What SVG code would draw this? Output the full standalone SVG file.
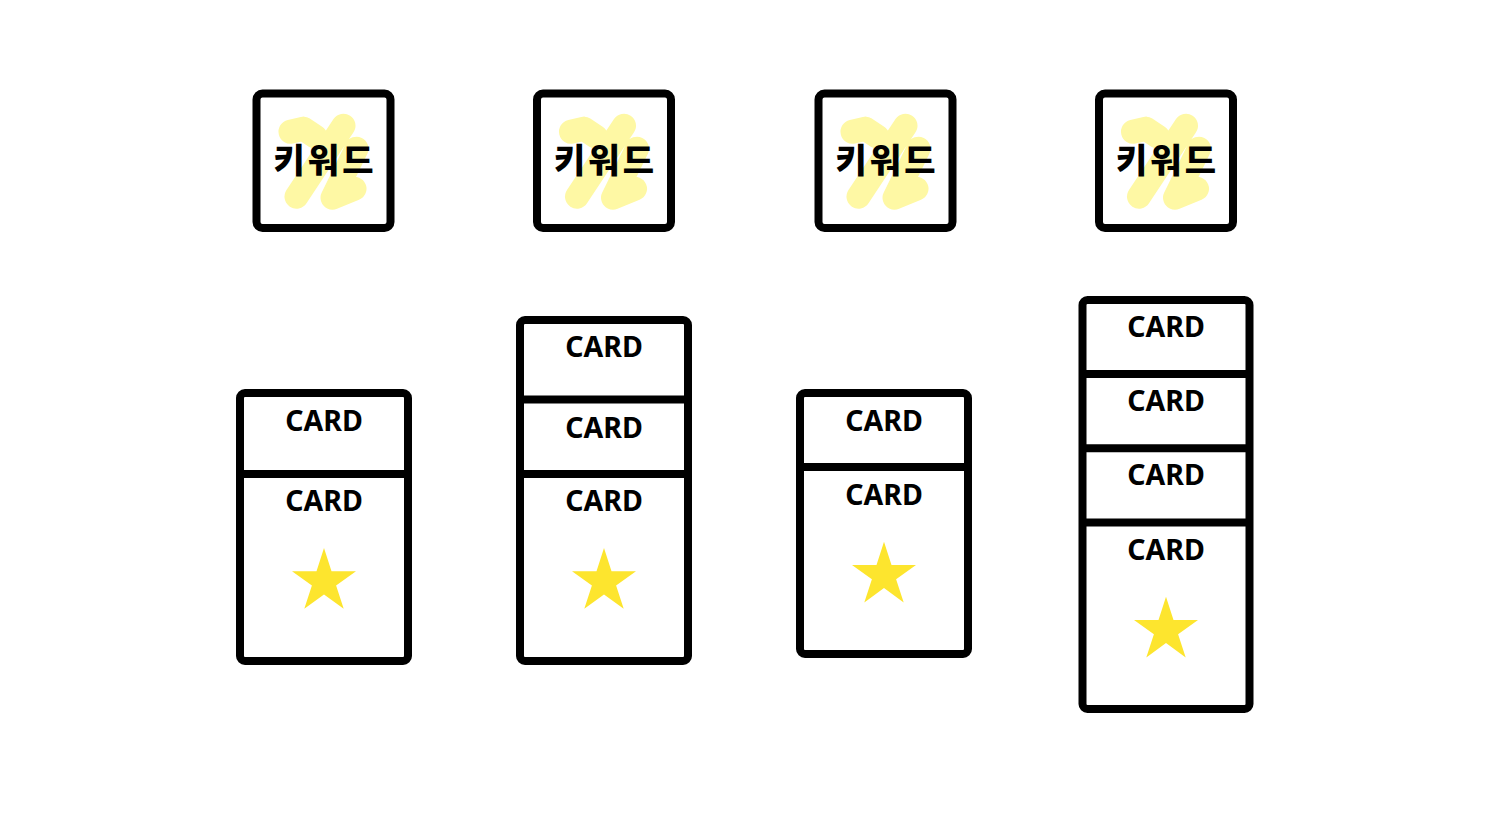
<svg xmlns="http://www.w3.org/2000/svg" width="1490" height="840" viewBox="0 0 1490 840">
<style>
.box{fill:#ffffff;stroke:#000000;stroke-width:8;}
.div{stroke:#000000;stroke-width:8;fill:none;}
.scr{fill:none;stroke:#FEF8A4;stroke-width:24;stroke-linecap:round;stroke-linejoin:round;}
.kw{font-family:"Noto Sans CJK KR","Noto Sans",sans-serif;font-weight:900;font-size:34px;fill:#000000;text-anchor:middle;letter-spacing:3px;}
.card{font-family:"Noto Sans","Noto Sans CJK KR",sans-serif;font-weight:700;font-size:28.5px;fill:#000000;text-anchor:middle;}
.star{fill:#FDE52E;}
</style>
<defs>
<path id="scribble" d="M -33 -29 L -20 -32 M 20 -35 L -27 36 M 33 -12 L 9 37 L 31 28 M -20 -32 L -8 -24"/>
<polygon id="star" points="0,-33.6 7.5,-10.4 32,-10.4 12.1,4 19.7,27.2 0,12.8 -19.7,27.2 -12.1,4 -32,-10.4 -7.5,-10.4"/>
</defs>
<rect width="1490" height="840" fill="#ffffff"/>

<g id="keyword1">
<rect class="box" x="256.5" y="93.5" width="134" height="134.5" rx="6"/>
<use href="#scribble" class="scr" transform="translate(323.5,160.7)"/>
<text class="kw" x="325" y="173">키워드</text>
</g>
<g id="keyword2">
<rect class="box" x="537" y="93.5" width="134" height="134.5" rx="6"/>
<use href="#scribble" class="scr" transform="translate(604,160.7)"/>
<text class="kw" x="605.5" y="173">키워드</text>
</g>
<g id="keyword3">
<rect class="box" x="818.5" y="93.5" width="134" height="134.5" rx="6"/>
<use href="#scribble" class="scr" transform="translate(885.5,160.7)"/>
<text class="kw" x="887" y="173">키워드</text>
</g>
<g id="keyword4">
<rect class="box" x="1099" y="93.5" width="134" height="134.5" rx="6"/>
<use href="#scribble" class="scr" transform="translate(1166,160.7)"/>
<text class="kw" x="1167.5" y="173">키워드</text>
</g>

<g id="stack1">
<rect class="box" x="240" y="393" width="168" height="268" rx="5"/>
<line class="div" x1="240" y1="474" x2="408" y2="474"/>
<text class="card" x="324" y="431">CARD</text>
<text class="card" x="324" y="511">CARD</text>
<use href="#star" class="star" transform="translate(324,581.6)"/>
</g>

<g id="stack2">
<rect class="box" x="520" y="320" width="168" height="341" rx="5"/>
<line class="div" x1="520" y1="399.5" x2="688" y2="399.5"/>
<line class="div" x1="520" y1="474" x2="688" y2="474"/>
<text class="card" x="604" y="357">CARD</text>
<text class="card" x="604" y="437.5">CARD</text>
<text class="card" x="604" y="511">CARD</text>
<use href="#star" class="star" transform="translate(604,581.6)"/>
</g>

<g id="stack3">
<rect class="box" x="800" y="393" width="168" height="261" rx="5"/>
<line class="div" x1="800" y1="467" x2="968" y2="467"/>
<text class="card" x="884" y="431">CARD</text>
<text class="card" x="884" y="505">CARD</text>
<use href="#star" class="star" transform="translate(884,575.3)"/>
</g>

<g id="stack4">
<rect class="box" x="1082.5" y="300" width="167" height="409" rx="5"/>
<line class="div" x1="1082.5" y1="374" x2="1249.5" y2="374"/>
<line class="div" x1="1082.5" y1="448.3" x2="1249.5" y2="448.3"/>
<line class="div" x1="1082.5" y1="522.5" x2="1249.5" y2="522.5"/>
<text class="card" x="1166" y="337">CARD</text>
<text class="card" x="1166" y="411">CARD</text>
<text class="card" x="1166" y="485">CARD</text>
<text class="card" x="1166" y="559.5">CARD</text>
<use href="#star" class="star" transform="translate(1166,630.3)"/>
</g>

<g id="connectors"></g>
</svg>
